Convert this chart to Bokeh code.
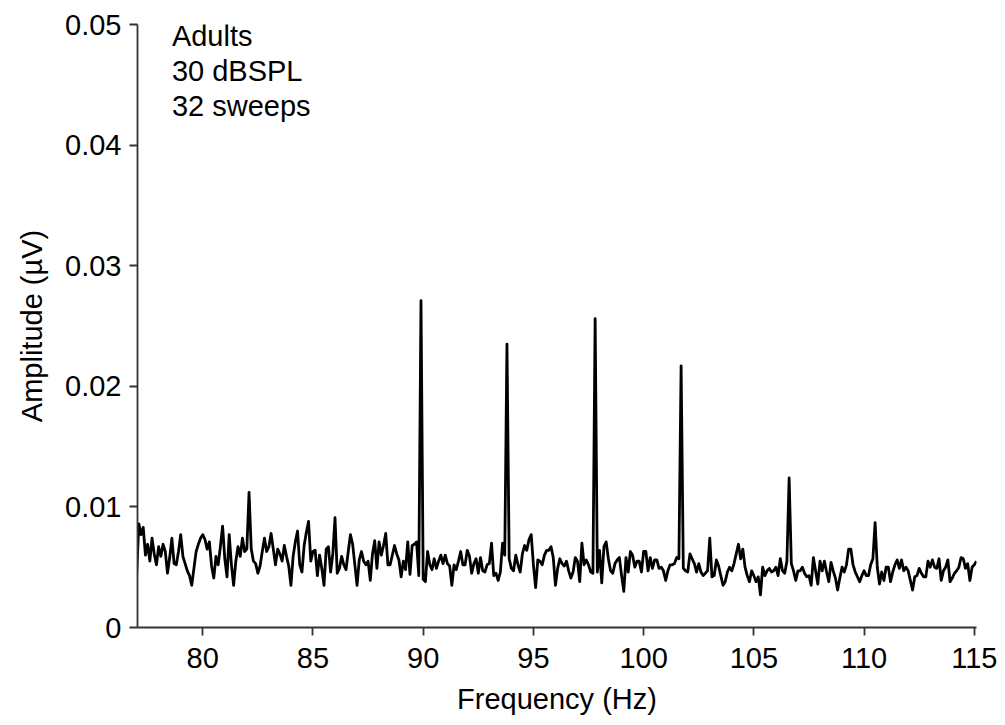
from bokeh.plotting import figure
from bokeh.models import FixedTicker, CustomJSTickFormatter, Label, Range1d
from bokeh.embed import file_html
from bokeh.resources import INLINE

# ---- data ----
freq_start = 77.0      # Hz, first spectral bin
freq_step = 0.1        # Hz, bin spacing
amplitude = [
    # 77.0 - 77.9
    0.0043, 0.0086, 0.0077, 0.0083, 0.0060, 0.0069, 0.0055, 0.0074, 0.0061, 0.0052,
    # 78.0 - 78.9
    0.0067, 0.0059, 0.0069, 0.0063, 0.0045, 0.0058, 0.0074, 0.0053, 0.0052, 0.0063,
    # 79.0 - 79.9
    0.0077, 0.0059, 0.0053, 0.0047, 0.0043, 0.0035, 0.0049, 0.0063, 0.0069, 0.0074,
    # 80.0 - 80.9
    0.0077, 0.0073, 0.0065, 0.0071, 0.0051, 0.0041, 0.0059, 0.0052, 0.0067, 0.0084,
    # 81.0 - 81.9
    0.0057, 0.0042, 0.0077, 0.0052, 0.0035, 0.0055, 0.0067, 0.0059, 0.0074, 0.0063,
    # 82.0 - 82.9
    0.0065, 0.0112, 0.0065, 0.0055, 0.0053, 0.0045, 0.0051, 0.0063, 0.0074, 0.0063,
    # 83.0 - 83.9
    0.0067, 0.0078, 0.0065, 0.0052, 0.0065, 0.0061, 0.0055, 0.0068, 0.0059, 0.0051,
    # 84.0 - 84.9
    0.0035, 0.0059, 0.0071, 0.0080, 0.0052, 0.0046, 0.0068, 0.0079, 0.0088, 0.0055,
    # 85.0 - 85.9
    0.0063, 0.0064, 0.0043, 0.0060, 0.0049, 0.0035, 0.0065, 0.0067, 0.0046, 0.0061,
    # 86.0 - 86.9
    0.0091, 0.0045, 0.0049, 0.0059, 0.0052, 0.0048, 0.0063, 0.0077, 0.0069, 0.0052,
    # 87.0 - 87.9
    0.0035, 0.0056, 0.0063, 0.0055, 0.0052, 0.0055, 0.0039, 0.0061, 0.0072, 0.0049,
    # 88.0 - 88.9
    0.0071, 0.0060, 0.0068, 0.0078, 0.0052, 0.0052, 0.0060, 0.0068, 0.0061, 0.0056,
    # 89.0 - 89.9
    0.0042, 0.0055, 0.0048, 0.0071, 0.0044, 0.0068, 0.0069, 0.0071, 0.0043, 0.0271,
    # 90.0 - 90.9
    0.0040, 0.0038, 0.0063, 0.0052, 0.0048, 0.0057, 0.0049, 0.0055, 0.0060, 0.0053,
    # 91.0 - 91.9
    0.0060, 0.0053, 0.0051, 0.0035, 0.0052, 0.0048, 0.0055, 0.0063, 0.0052, 0.0052,
    # 92.0 - 92.9
    0.0064, 0.0059, 0.0045, 0.0053, 0.0057, 0.0045, 0.0058, 0.0047, 0.0046, 0.0052,
    # 93.0 - 93.9
    0.0053, 0.0070, 0.0043, 0.0045, 0.0039, 0.0046, 0.0070, 0.0060, 0.0235, 0.0057,
    # 94.0 - 94.9
    0.0049, 0.0047, 0.0060, 0.0052, 0.0046, 0.0061, 0.0068, 0.0064, 0.0073, 0.0077,
    # 95.0 - 95.9
    0.0052, 0.0033, 0.0056, 0.0055, 0.0052, 0.0060, 0.0064, 0.0064, 0.0067, 0.0058,
    # 96.0 - 96.9
    0.0035, 0.0049, 0.0057, 0.0053, 0.0051, 0.0055, 0.0047, 0.0041, 0.0046, 0.0058,
    # 97.0 - 97.9
    0.0055, 0.0038, 0.0070, 0.0052, 0.0056, 0.0052, 0.0046, 0.0045, 0.0256, 0.0046,
    # 98.0 - 98.9
    0.0064, 0.0037, 0.0067, 0.0071, 0.0057, 0.0047, 0.0045, 0.0053, 0.0056, 0.0058,
    # 99.0 - 99.9
    0.0043, 0.0030, 0.0058, 0.0046, 0.0063, 0.0060, 0.0050, 0.0055, 0.0055, 0.0046,
    # 100.0 - 100.9
    0.0063, 0.0063, 0.0047, 0.0058, 0.0049, 0.0056, 0.0056, 0.0049, 0.0050, 0.0047,
    # 101.0 - 101.9
    0.0039, 0.0047, 0.0052, 0.0052, 0.0053, 0.0058, 0.0057, 0.0217, 0.0049, 0.0047,
    # 102.0 - 102.9
    0.0046, 0.0061, 0.0057, 0.0053, 0.0046, 0.0053, 0.0046, 0.0043, 0.0045, 0.0047,
    # 103.0 - 103.9
    0.0074, 0.0042, 0.0043, 0.0056, 0.0051, 0.0043, 0.0035, 0.0038, 0.0046, 0.0050,
    # 104.0 - 104.9
    0.0047, 0.0053, 0.0061, 0.0069, 0.0057, 0.0065, 0.0050, 0.0043, 0.0038, 0.0047,
    # 105.0 - 105.9
    0.0043, 0.0038, 0.0042, 0.0027, 0.0050, 0.0043, 0.0047, 0.0049, 0.0046, 0.0047,
    # 106.0 - 106.9
    0.0050, 0.0043, 0.0057, 0.0047, 0.0045, 0.0055, 0.0124, 0.0053, 0.0047, 0.0039,
    # 107.0 - 107.9
    0.0047, 0.0047, 0.0050, 0.0045, 0.0042, 0.0043, 0.0035, 0.0058, 0.0047, 0.0036,
    # 108.0 - 108.9
    0.0055, 0.0047, 0.0055, 0.0046, 0.0038, 0.0054, 0.0047, 0.0041, 0.0031, 0.0041,
    # 109.0 - 109.9
    0.0050, 0.0046, 0.0052, 0.0065, 0.0065, 0.0052, 0.0046, 0.0042, 0.0038, 0.0043,
    # 110.0 - 110.9
    0.0047, 0.0043, 0.0043, 0.0052, 0.0057, 0.0087, 0.0050, 0.0036, 0.0046, 0.0039,
    # 111.0 - 111.9
    0.0050, 0.0050, 0.0038, 0.0046, 0.0052, 0.0056, 0.0049, 0.0056, 0.0047, 0.0050,
    # 112.0 - 112.9
    0.0047, 0.0039, 0.0031, 0.0042, 0.0043, 0.0049, 0.0045, 0.0042, 0.0042, 0.0055,
    # 113.0 - 113.9
    0.0050, 0.0056, 0.0050, 0.0049, 0.0057, 0.0039, 0.0047, 0.0050, 0.0056, 0.0038,
    # 114.0 - 114.9
    0.0041, 0.0045, 0.0047, 0.0050, 0.0058, 0.0057, 0.0049, 0.0053, 0.0039, 0.0050,
    # 115.0 - 115.1
    0.0052, 0.0055,
]
freq = [round(freq_start + i * freq_step, 2) for i in range(len(amplitude))]

x_ticks = [80, 85, 90, 95, 100, 105, 110, 115]
y_ticks = [0, 0.01, 0.02, 0.03, 0.04, 0.05]
annotation_lines = ["Adults", "30 dBSPL", "32 sweeps"]

FONT = "Liberation Sans"
FS = "29px"

p = figure(width=997, height=717, output_backend="svg", toolbar_location=None,
           x_range=Range1d(77.04, 115.1), y_range=Range1d(0, 0.05),
           min_border_left=137, min_border_right=21, min_border_top=24,
           min_border_bottom=90)
p.outline_line_color = None
p.xgrid.visible = False
p.ygrid.visible = False
p.background_fill_color = "white"
p.border_fill_color = "white"

p.line(freq, amplitude, line_color="black", line_width=2.8, line_join="round")

for ax in (p.xaxis[0], p.yaxis[0]):
    ax.axis_line_color = "#333333"
    ax.axis_line_width = 1.8
    ax.major_tick_line_color = "#333333"
    ax.major_tick_line_width = 1.8
    ax.major_tick_out = 8
    ax.major_tick_in = 0
    ax.minor_tick_out = 0
    ax.minor_tick_in = 0
    ax.major_label_text_font = FONT
    ax.major_label_text_font_size = FS
    ax.major_label_text_color = "black"
    ax.axis_label_text_font = FONT
    ax.axis_label_text_font_size = FS
    ax.axis_label_text_font_style = "normal"
    ax.axis_label_text_color = "black"

p.xaxis.ticker = FixedTicker(ticks=x_ticks)
p.yaxis.ticker = FixedTicker(ticks=y_ticks)
p.yaxis.formatter = CustomJSTickFormatter(code="return tick == 0 ? '0' : tick.toFixed(2);")
p.xaxis.major_label_standoff = 12
p.yaxis.major_label_standoff = 8
p.xaxis.axis_label = "Frequency (Hz)"
p.yaxis.axis_label = "Amplitude (µV)"
p.xaxis.axis_label_standoff = 12
p.yaxis.axis_label_standoff = 14

label_y = [0.04903, 0.04613, 0.04323]
for txt, yy in zip(annotation_lines, label_y):
    p.add_layout(Label(x=78.6, y=yy, text=txt, text_font=FONT,
                       text_font_size=FS, text_color="black",
                       text_baseline="alphabetic", text_align="left"))

open("out.html", "w").write(file_html(p, INLINE))
